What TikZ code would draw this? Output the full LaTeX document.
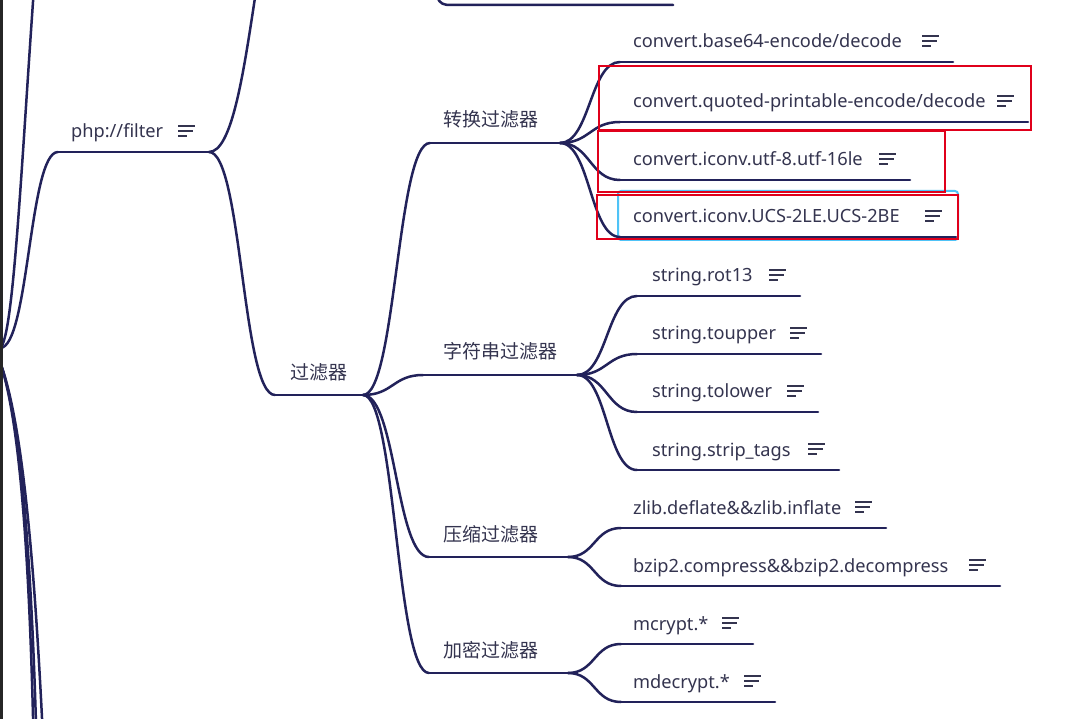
\documentclass[tikz,border=0pt]{standalone}
\usepackage{fontspec}
\setmainfont{Noto Sans}
\newfontfamily\cjkfont{Noto Sans CJK SC}
\definecolor{lnc}{HTML}{22225A}
\definecolor{txc}{HTML}{34344F}
\definecolor{redc}{HTML}{E0001B}
\definecolor{cyanc}{HTML}{4FC3F7}
\definecolor{edgec}{HTML}{262626}
\tikzset{
  ln/.style={draw=lnc, line width=2.5pt, line cap=round},
  mm/.style={to path={.. controls +(#1,0) and +(-#1,0) .. (\tikztotarget)}},
  txt/.style={anchor=base west, inner sep=0pt, text=txc, font=\fontsize{18.2}{21}\selectfont},
  cjk/.style={anchor=base west, inner sep=0pt, text=txc, font=\cjkfont\fontsize{19}{22}\selectfont},
  noteicon/.style={draw=txc, line width=1.5pt},
  redbox/.style={draw=redc, line width=2.8pt},
  selbox/.style={draw=cyanc, line width=2pt, rounded corners=3pt},
}
% name, x start, x end, underline y, text x, text
\newcommand\mmleaf[6]{%
  \coordinate (#1-s) at (#2,#4);
  \coordinate (#1-e) at (#3,#4);
  \draw[ln] (#1-s) -- (#1-e);
  \node[txt] (#1) at (#5,#4-14) {#6};
  \draw[noteicon] (#3-31,#4-26) -- ++(17,0) (#3-31,#4-21) -- ++(15,0) (#3-31,#4-16) -- ++(9,0);
}
\newcommand\mmcat[6]{%
  \coordinate (#1-s) at (#2,#4);
  \coordinate (#1-e) at (#3,#4);
  \draw[ln] (#1-s) -- (#1-e);
  \node[cjk] (#1) at (#5,#4-16) {#6};
}
\begin{document}
\begin{tikzpicture}[x=1pt,y=-1pt]
\useasboundingbox (0,0) rectangle (1066,719);
\fill[white] (0,0) rectangle (1066,719);
\clip (0,0) rectangle (1066,719);

% root branch points (root lies left of the view)
\coordinate (rootA) at (0,348);
\coordinate (rootB) at (0,362);
\coordinate (upA) at (36,-40);
\coordinate (dn1) at (34,760);
\coordinate (dn2) at (37,760);
\coordinate (dn3) at (44,760);
\coordinate (upB) at (300,-150);
\coordinate (upC) at (432,-40);

% nodes
\mmleaf{php}{58}{209}{152}{71}{php://filter}
\mmcat{gl}{275}{363}{395}{290}{过滤器}
\mmcat{zh}{430}{560}{143}{443}{转换过滤器}
\mmcat{zf}{423}{577}{375}{443}{字符串过滤器}
\mmcat{ys}{429}{568}{557}{443}{压缩过滤器}
\mmcat{jm}{429}{568}{673}{443}{加密过滤器}

\draw[selbox] (618,191) rectangle (958,240);

\mmleaf{c1}{620}{953}{62}{633}{convert.base64-encode/decode}
\mmleaf{c2}{620}{1028}{122}{633}{convert.quoted-printable-encode/decode}
\mmleaf{c3}{620}{910}{180}{633}{convert.iconv.utf-8.utf-16le}
\mmleaf{c4}{620}{956}{237}{633}{convert.iconv.UCS-2LE.UCS-2BE}
\mmleaf{s1}{637}{800}{296}{652}{string.rot13}
\mmleaf{s2}{637}{821}{354}{652}{string.toupper}
\mmleaf{s3}{637}{818}{412}{652}{string.tolower}
\mmleaf{s4}{637}{839}{470}{652}{string.strip\_tags}
\mmleaf{z1}{621}{886}{528}{633}{zlib.deflate\&\&zlib.inflate}
\mmleaf{z2}{621}{1000}{586}{633}{bzip2.compress\&\&bzip2.decompress}
\mmleaf{m1}{621}{753}{644}{633}{mcrypt.*}
\mmleaf{m2}{621}{775}{702}{633}{mdecrypt.*}

% top partial node
\coordinate (top-s) at (450,5);
\coordinate (top-e) at (673,5);
\draw[ln] (upC) .. controls (434,0) and (438,5) .. (top-s) -- (top-e);

% connectors from root
\draw[ln] (rootA) .. controls (14,340) and (22,150) .. (upA);
\draw[ln] (rootA) to[mm=29] (php-s);
\draw[ln] (rootB) .. controls (20,420) and (30,560) .. (dn1);
\draw[ln] (rootB) .. controls (21,420) and (32,560) .. (dn2);
\draw[ln] (rootB) .. controls (22,420) and (35,560) .. (dn3);

% php://filter
\draw[ln] (php-e) to[mm=45] (upB);
\draw[ln] (php-e) to[mm=33] (gl-s);

% 过滤器
\draw[ln] (gl-e) to[mm=33] (zh-s);
\draw[ln] (gl-e) to[mm=30] (zf-s);
\draw[ln] (gl-e) to[mm=33] (ys-s);
\draw[ln] (gl-e) to[mm=33] (jm-s);

% children
\foreach \c in {c1,c2,c3,c4} \draw[ln] (zh-e) to[mm=30] (\c-s);
\foreach \c in {s1,s2,s3,s4} \draw[ln] (zf-e) to[mm=30] (\c-s);
\foreach \c in {z1,z2} \draw[ln] (ys-e) to[mm=27] (\c-s);
\foreach \c in {m1,m2} \draw[ln] (jm-e) to[mm=27] (\c-s);

% highlight boxes
\draw[redbox] (599,66) rectangle (1031,130);
\draw[redbox] (598,131) rectangle (945,192);
\draw[redbox] (597,195) rectangle (958,239);

% window edge
\fill[edgec] (0,0) rectangle (2.5,719);
\end{tikzpicture}
\end{document}
